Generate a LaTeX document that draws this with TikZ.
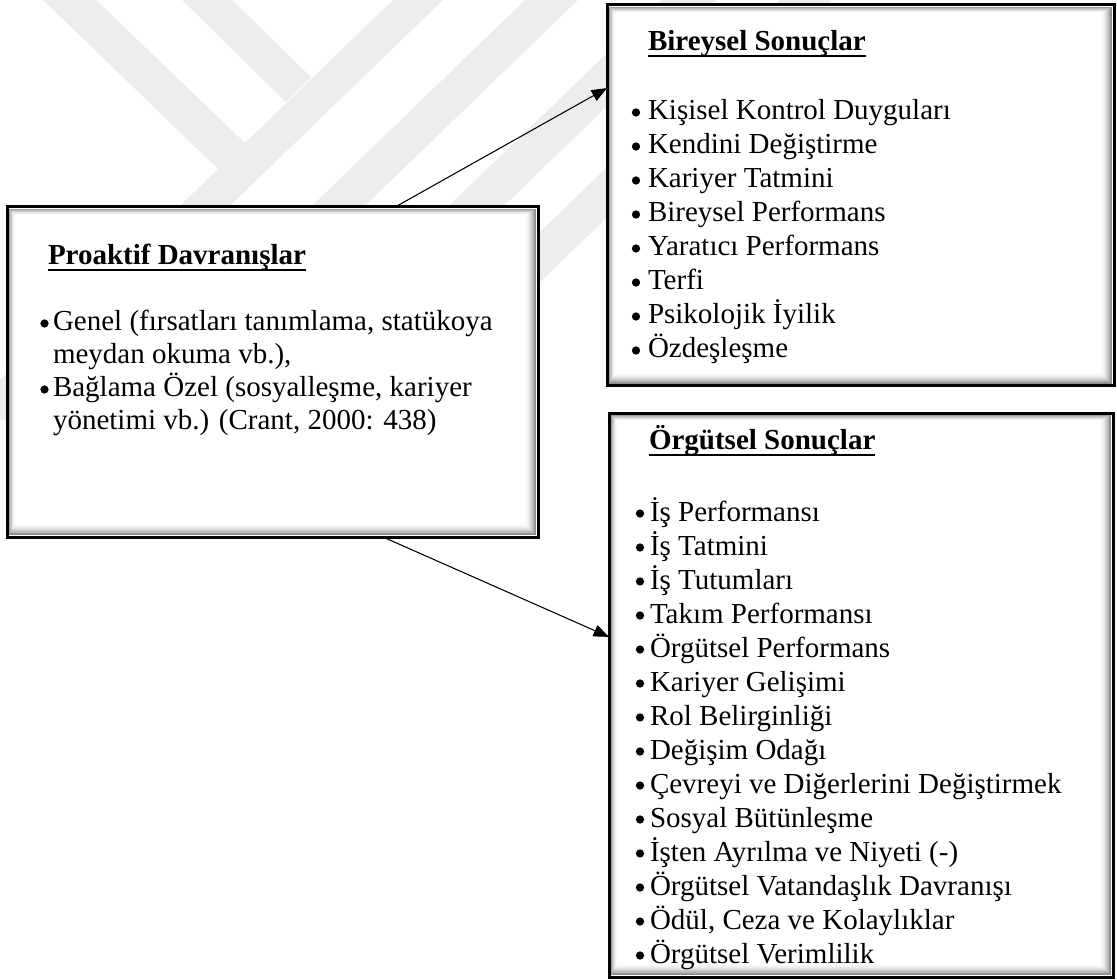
\documentclass[tikz,border=0pt]{standalone}
\usepackage{fontspec}
\setmainfont{Liberation Serif}
\usetikzlibrary{arrows.meta,calc}

% bold heading with a heavy underline
\newcommand\boxhead[1]{\setbox0\hbox{\bfseries #1}\rlap{\rule[-4.6pt]{\wd0}{1.9pt}}\box0}

% soft inner shade along the frame of a box node (darker towards right/bottom)
\newcommand\innershade[1]{%
  \foreach \k in {0,...,11}{%
    \pgfmathsetmacro\g{46*(1-\k/12)^2}%
    \pgfmathsetmacro\a{2.2+0.6*\k}%
    \pgfmathsetmacro\b{2.2+\k}%
    \draw[draw=black!\g, line width=1pt]
      ($(#1.north west)+(\a,\a)$) rectangle ($(#1.south east)+(-\b,-\b)$);
  }}

\begin{document}
\begin{tikzpicture}[x=0.75pt,y=-0.75pt,
  box/.style={rectangle, draw=black, line width=2.25pt, fill=white, inner sep=0pt, outer sep=0pt},
  txt/.style={anchor=base west, inner sep=0pt, outer sep=0pt, font=\fontsize{21.75pt}{25.5pt}\selectfont},
  conn/.style={line width=0.8pt, -{Triangle[length=11.5pt, width=9pt]}},
  dot/.style={fill=black},
  wm/.style={fill=black!7}]
\useasboundingbox (0,0) rectangle (1117,980);

% light background emblem
\begin{scope}
  \clip (0,0) rectangle (1117,420);
  \fill[wm] (43,0) -- (96,0) -- (245,143) -- (218,169) -- cycle;
  \fill[wm] (182,0) -- (232,0) -- (311,77) -- (286,102) -- cycle;
  \foreach \xl/\w in {186/50, 318/53, 455/55, 573/52}{
    \fill[wm] ({\xl+207},0) -- ({\xl+207+\w},0) -- ({\xl-227.7+\w},420) -- ({\xl-227.7},420) -- cycle;
  }
\end{scope}

% the three boxes
\node[box, minimum width=531*0.75pt, minimum height=330*0.75pt] (pro) at (272.5,372) {};
\node[box, minimum width=507*0.75pt, minimum height=381*0.75pt] (bir) at (860.5,195.5) {};
\node[box, minimum width=504*0.75pt, minimum height=564*0.75pt] (org) at (861,695) {};
\innershade{pro}
\innershade{bir}
\innershade{org}

% proactive behaviour box
\node[txt] (proh) at (48,265) {\boxhead{Proaktif Davranışlar}};
\node[txt] (p1) at (53,331) {Genel (fırsatları tanımlama, statükoya};
\node[txt] (p2) at (53,364) {meydan okuma vb.),};
\node[txt] (p3) at (53,397) {Bağlama Özel (sosyalleşme, kariyer};
\node[txt] (p4) at (53,430) {yönetimi vb.) (Crant, 2000: 438)};
\fill[dot] ($(p1.base west)+(-8.5,-7.5)$) circle (3.1pt);
\fill[dot] ($(p3.base west)+(-8.5,-7.5)$) circle (3.1pt);

% individual outcomes
\node[txt] (birh) at (648,51) {\boxhead{Bireysel Sonuçlar}};
\foreach \t [count=\i] in {Kişisel Kontrol Duyguları, Kendini Değiştirme, Kariyer Tatmini,
  Bireysel Performans, Yaratıcı Performans, Terfi, Psikolojik İyilik, Özdeşleşme}{
  \node[txt] (b\i) at (648,{120+34*(\i-1)}) {\t};
  \fill[dot] ($(b\i.base west)+(-12,-7.5)$) circle (3.1pt);
}

% organisational outcomes
\node[txt] (orgh) at (649,450) {\boxhead{Örgütsel Sonuçlar}};
\foreach \t [count=\i] in {İş Performansı, İş Tatmini, İş Tutumları, Takım Performansı,
  Örgütsel Performans, Kariyer Gelişimi, Rol Belirginliği, Değişim Odağı,
  Çevreyi ve Diğerlerini Değiştirmek, Sosyal Bütünleşme, İşten Ayrılma ve Niyeti (-),
  Örgütsel Vatandaşlık Davranışı, {Ödül, Ceza ve Kolaylıklar}, Örgütsel Verimlilik}{
  \node[txt] (o\i) at (650,{521+34*(\i-1)}) {\t};
  \fill[dot] ($(o\i.base west)+(-10,-7.5)$) circle (3.1pt);
}

% connectors
\draw[conn] ($(pro.north west)!0.731!(pro.north east)$) -- ($(bir.north west)!0.218!(bir.south west)$);
\draw[conn] ($(pro.south west)!0.708!(pro.south east)$) -- ($(org.north west)!0.397!(org.south west)$);
\end{tikzpicture}
\end{document}
